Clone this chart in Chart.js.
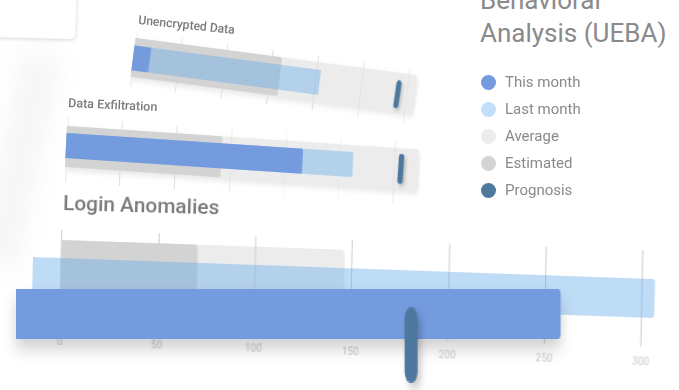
<!DOCTYPE html>
<html>
<head>
<meta charset="utf-8">
<script src="https://cdn.jsdelivr.net/npm/chart.js@4.4.1/dist/chart.umd.min.js"></script>
<style>
  html, body { margin: 0; padding: 0; background: #fff; overflow: hidden; }
  #scene { position: relative; width: 679px; height: 390px; overflow: hidden; font-family: Roboto, "Open Sans", sans-serif; }
  .layer { position: absolute; left: 0; top: 0; transform-origin: 0 0; }
  .card { position: absolute; left: -20px; top: -20px; width: 96px; height: 58px; background: #fff;
          border-radius: 5px; box-shadow: 0 1px 4px rgba(0,0,0,0.16); transform: rotate(1.5deg); }
  .streak { position: absolute; left: 0; top: 50px; width: 40px; height: 220px; background: rgba(0,0,0,0.035);
            filter: blur(12px); transform: rotate(12deg); }
  .ctitle { position: absolute; white-space: nowrap; line-height: 1; color: #7b7b7b; font-weight: 500;
            transform-origin: 0 80%; }
  .title { position: absolute; left: 480px; top: -49px; font-size: 26px; line-height: 33px; color: #8a8a8a; white-space: nowrap; }
  .legend-item { position: absolute; left: 481px; height: 15px; line-height: 15px; font-size: 15px; color: #8a8a8a; white-space: nowrap; }
  .legend-item span.dot { display: inline-block; width: 15px; height: 15px; border-radius: 50%; vertical-align: top; margin-right: 9px; }
</style>
</head>
<body>
<div id="scene">
  <div class="streak"></div>
  <div class="card"></div>
  <div class="title">User and Entity<br>Behavioral<br>Analysis (UEBA)</div>
</div>
<script>
// chart data
const categories = ['Unencrypted Data', 'Data Exfiltration', 'Login Anomalies'];
const thisMonth = [18, 216, 281];
const lastMonth = [205, 262, 321];
const average = [309, 321, 146];
const estimated = [161, 142, 70];
const prognosis = [290, 306, 205];
const axisTicks = [0, 50, 100, 150, 200, 250, 300];
const axisMax = 330;

const seriesNames = ['This month', 'Last month', 'Average', 'Estimated', 'Prognosis'];
const seriesColors = ['#739bde', '#c2dffa', '#ececec', '#d3d3d3', '#4f789e'];
const lastMonthFill = 'rgba(102, 171, 233, 0.42)';

// where each layer of each bullet lands on screen (value 0 centre, vector per unit, thickness vector)
const placement = [
  {
    grid: { o: [133.5, 59.5], u: [0.91, 0.12], h: [-7, 55] },
    range: { o: [133, 57.5], u: [0.91, 0.12], h: [-5, 39] },
    last: { o: [133, 58], u: [0.91, 0.12], h: [-3.2, 25] },
    current: { o: [133, 58], u: [0.91, 0.12], h: [-3.2, 25] },
    marker: { o: [133.5, 59.5], u: [0.91, 0.12], h: [-4, 28], w: 5 }
  },
  {
    grid: { o: [66.5, 150], u: [1.094, 0.073], h: [-3, 64] },
    range: { o: [66, 146.5], u: [1.094, 0.073], h: [-2, 41] },
    last: { o: [66, 145.5], u: [1.094, 0.073], h: [-1.2, 25] },
    current: { o: [66, 145.5], u: [1.094, 0.073], h: [-1.2, 25] },
    marker: { o: [66, 146.5], u: [1.094, 0.073], h: [-2, 30], w: 5.5 }
  },
  {
    grid: { o: [61, 278.5], u: [1.937, 0.0667], h: [-2, 97] },
    range: { o: [61, 278.5], u: [1.937, 0.0667], h: [-1.6, 77] },
    last: { o: [32.5, 276.5], u: [1.937, 0.0686], h: [-1, 39] },
    current: { o: [16, 314], u: [1.937, 0], h: [0, 50] },
    marker: { o: [14, 345], u: [1.937, 0], h: [0, 76], w: 13 }
  }
];

Chart.defaults.font.family = 'Roboto, "Open Sans", sans-serif';
const scene = document.getElementById('scene');

function xScale(showGrid, showLabels, gridColor) {
  return {
    type: 'linear', min: 0, max: axisMax, display: showGrid,
    afterBuildTicks: ax => { ax.ticks = axisTicks.map(v => ({ value: v })); },
    grid: { display: showGrid, color: gridColor, lineWidth: 1, drawTicks: false },
    border: { display: false },
    ticks: { display: showLabels, color: '#c9c9c9', font: { size: 10 }, padding: 8, maxRotation: 0, autoSkip: false }
  };
}

function baseOptions(xs) {
  return {
    indexAxis: 'y', responsive: false, animation: false, events: [],
    layout: { padding: 0 },
    plugins: { legend: { display: false }, tooltip: { enabled: false } },
    scales: { x: xs, y: { type: 'category', display: false, offset: true } }
  };
}

// prognosis marker: a rounded tick at the value, full height of the row
const markerPlugin = {
  id: 'marker',
  afterDatasetsDraw(chart) {
    const ds = chart.data.datasets[0];
    const ar = chart.chartArea;
    const x = chart.scales.x.getPixelForValue(ds.data[0]);
    const w = ds.markerWidth;
    const ctx = chart.ctx;
    ctx.save();
    ctx.fillStyle = ds.markerColor;
    ctx.beginPath();
    ctx.roundRect(x - w / 2, ar.top, w, ar.bottom - ar.top, w / 2);
    ctx.fill();
    ctx.restore();
  }
};

function addLayer(w, h, cfg, pl, shadow) {
  const cv = document.createElement('canvas');
  cv.width = w; cv.height = h;
  cv.className = 'layer';
  if (shadow) cv.style.filter = shadow;
  scene.appendChild(cv);
  const chart = new Chart(cv, cfg);
  const xs = chart.scales.x, ar = chart.chartArea;
  const p = (xs.getPixelForValue(100) - xs.getPixelForValue(0)) / 100;
  const x0 = xs.getPixelForValue(0);
  const cy = (ar.top + ar.bottom) / 2;
  const ah = ar.bottom - ar.top;
  const a = pl.u[0] / p, b = pl.u[1] / p, c = pl.h[0] / ah, d = pl.h[1] / ah;
  const e = pl.o[0] - (a * x0 + c * cy), f = pl.o[1] - (b * x0 + d * cy);
  cv.style.transform = `matrix(${a},${b},${c},${d},${e},${f})`;
  return chart;
}

function barLayer(i, name, value, color, pl, shadow) {
  addLayer(600, 40, {
    type: 'bar',
    data: { labels: [categories[i]], datasets: [{
      label: name, data: [value], backgroundColor: color,
      barPercentage: 1, categoryPercentage: 1, borderRadius: 4, borderSkipped: 'start'
    }] },
    options: baseOptions(xScale(false, false, '#ddd'))
  }, pl, shadow);
}

function gridLayer(i, pl, withLabels, color) {
  addLayer(640, withLabels ? 120 : 100, {
    type: 'bar',
    data: { labels: [categories[i]], datasets: [] },
    options: baseOptions(xScale(true, withLabels, color))
  }, pl);
}

function markerLayer(i, value, pl, shadow) {
  const W = 600;
  const a = pl.u[0] / (W / axisMax);
  addLayer(W, 40, {
    type: 'bar',
    data: { labels: [categories[i]], datasets: [{
      label: 'Prognosis', data: [value], backgroundColor: 'rgba(0,0,0,0)',
      markerColor: seriesColors[4], markerWidth: pl.w / a
    }] },
    options: baseOptions(xScale(false, false, '#ddd')),
    plugins: [markerPlugin]
  }, pl, shadow);
}

categories.forEach((cat, i) => {
  const pl = placement[i];
  const big = i === 2;
  barLayer(i, 'Average', average[i], seriesColors[2], pl.range,
    big ? null : 'drop-shadow(3px 3px 3px rgba(0,0,0,0.10))');
  gridLayer(i, pl.grid, big, big ? '#cdcdcd' : '#dadada');
  barLayer(i, 'Estimated', estimated[i], seriesColors[3], pl.range);
  barLayer(i, 'Last month', lastMonth[i], lastMonthFill, pl.last);
  barLayer(i, 'This month', thisMonth[i], seriesColors[0], pl.current,
    big ? 'drop-shadow(0 8px 6px rgba(0,0,0,0.18))' : null);
  markerLayer(i, prognosis[i], pl.marker, 'drop-shadow(3px 3px 3px rgba(0,0,0,0.22))');
});

// chart titles, tilted like their bullets
const titleStyles = [
  { left: 138, top: 14, size: 12.5, rot: 5.9, sx: 0.97 },
  { left: 68, top: 96.5, size: 12.5, rot: 2.6, sx: 1 },
  { left: 63, top: 194, size: 19.5, rot: 1.6, sx: 1.07 }
];
categories.forEach((cat, i) => {
  const s = titleStyles[i];
  const el = document.createElement('div');
  el.className = 'ctitle';
  el.textContent = cat;
  el.style.left = s.left + 'px';
  el.style.top = s.top + 'px';
  el.style.fontSize = s.size + 'px';
  el.style.transform = `rotate(${s.rot}deg) scale(${s.sx}, 1)`;
  scene.appendChild(el);
});

// legend
seriesNames.forEach((name, k) => {
  const row = document.createElement('div');
  row.className = 'legend-item';
  row.style.top = (74.5 + k * 27) + 'px';
  row.innerHTML = `<span class="dot" style="background:${seriesColors[k]}"></span>${name}`;
  scene.appendChild(row);
});
</script>
</body>
</html>
